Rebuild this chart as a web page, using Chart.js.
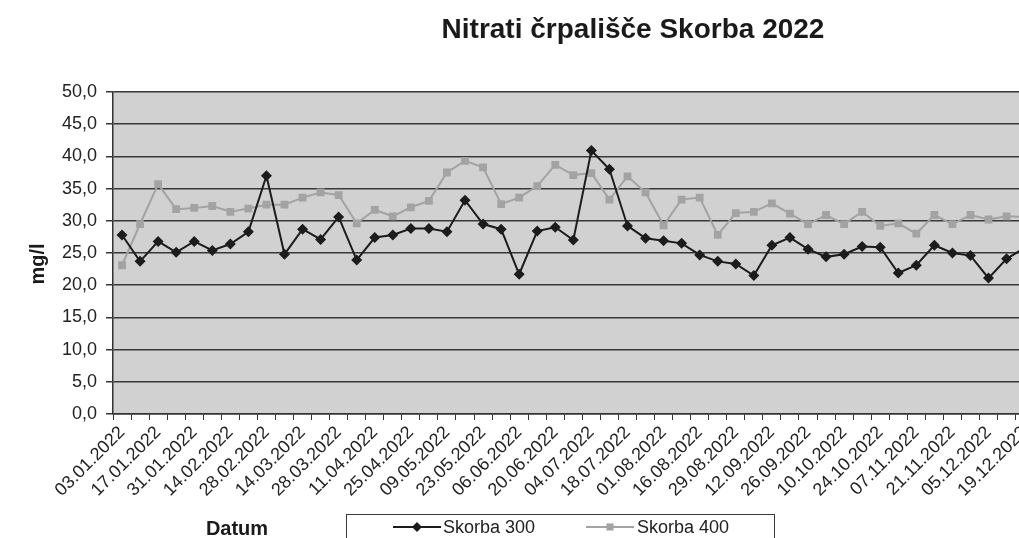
<!DOCTYPE html>
<html>
<head>
<meta charset="utf-8">
<script src="https://cdn.jsdelivr.net/npm/chart.js@4/dist/chart.umd.min.js"></script>
<style>
  html, body { margin: 0; padding: 0; background: #fff; overflow: hidden; }
  #wrap { position: absolute; left: 0; top: 0; width: 1019px; height: 538px; overflow: hidden; }
  canvas { display: block; }
</style>
</head>
<body>
<div id="wrap"><canvas id="chart" width="1060" height="538"></canvas></div>
<script>
// ------------------------------------------------------------
// Nitrati črpališče Skorba 2022 — tedenske meritve
// ------------------------------------------------------------

const datumi = [
  '03.01.2022', '10.01.2022', '17.01.2022', '24.01.2022', '31.01.2022', '07.02.2022',
  '14.02.2022', '21.02.2022', '28.02.2022', '07.03.2022', '14.03.2022', '21.03.2022',
  '28.03.2022', '04.04.2022', '11.04.2022', '19.04.2022', '25.04.2022', '02.05.2022',
  '09.05.2022', '16.05.2022', '23.05.2022', '30.05.2022', '06.06.2022', '13.06.2022',
  '20.06.2022', '27.06.2022', '04.07.2022', '11.07.2022', '18.07.2022', '25.07.2022',
  '01.08.2022', '08.08.2022', '16.08.2022', '22.08.2022', '29.08.2022', '05.09.2022',
  '12.09.2022', '19.09.2022', '26.09.2022', '03.10.2022', '10.10.2022', '17.10.2022',
  '24.10.2022', '02.11.2022', '07.11.2022', '14.11.2022', '21.11.2022', '28.11.2022',
  '05.12.2022', '12.12.2022', '19.12.2022', '27.12.2022',
];

const skorba300 = [
  27.8, 23.7, 26.8, 25.1, 26.8, 25.4, 26.4, 28.3, 37.0, 24.8, 28.7, 27.1,
  30.6, 23.9, 27.4, 27.8, 28.8, 28.8, 28.3, 33.2, 29.5, 28.7, 21.7, 28.4,
  29.0, 27.0, 40.9, 38.0, 29.2, 27.3, 26.9, 26.5, 24.7, 23.7, 23.3, 21.5,
  26.2, 27.4, 25.6, 24.4, 24.8, 26.0, 25.9, 21.9, 23.1, 26.2, 25.0, 24.6,
  21.1, 24.1, 25.8, 25.0,
];

const skorba400 = [
  23.1, 29.5, 35.7, 31.8, 32.0, 32.3, 31.4, 31.9, 32.5, 32.5, 33.6, 34.4,
  34.0, 29.6, 31.7, 30.7, 32.1, 33.1, 37.5, 39.3, 38.3, 32.6, 33.6, 35.4,
  38.7, 37.1, 37.4, 33.3, 36.9, 34.4, 29.3, 33.3, 33.6, 27.8, 31.2, 31.4,
  32.7, 31.1, 29.5, 30.9, 29.5, 31.4, 29.2, 29.6, 28.0, 30.9, 29.5, 30.9,
  30.2, 30.7, 30.6, 30.0,
];

const naslov   = 'Nitrati črpališče Skorba 2022';
const osX      = 'Datum';
const osY      = 'mg/l';
const imeniSerij = ['Skorba 300', 'Skorba 400'];

const FONT = '"Liberation Sans", Arial, sans-serif';
const BARVA_300 = '#1c1c1c';
const BARVA_400 = '#a3a3a3';

// kvadrat / romb za legendo
function narisiZnak(ctx, tip, x, y, r, barva) {
  ctx.fillStyle = barva;
  ctx.beginPath();
  if (tip === 'rectRot') {
    ctx.moveTo(x, y - r);
    ctx.lineTo(x + r, y);
    ctx.lineTo(x, y + r);
    ctx.lineTo(x - r, y);
  } else {
    const s = r * Math.SQRT1_2;
    ctx.rect(x - s, y - s, 2 * s, 2 * s);
  }
  ctx.closePath();
  ctx.fill();
}

const ozadjeGrafa = {
  id: 'ozadjeGrafa',
  beforeDraw(chart) {
    const { ctx, chartArea: a } = chart;
    ctx.save();
    ctx.fillStyle = '#d1d1d1';
    ctx.fillRect(a.left, a.top, a.right - a.left, a.bottom - a.top);
    ctx.restore();
  },
};

const napisi = {
  id: 'napisi',
  afterDraw(chart) {
    const { ctx } = chart;
    ctx.save();
    ctx.fillStyle = '#1a1a1a';
    ctx.textBaseline = 'alphabetic';

    // naslov
    ctx.font = `bold 28px ${FONT}`;
    ctx.textAlign = 'center';
    ctx.fillText(naslov, 633, 38);

    // naslov osi X
    ctx.font = `bold 20px ${FONT}`;
    ctx.fillText(osX, 237, 535);

    // naslov osi Y (navpično)
    ctx.translate(37, 264);
    ctx.rotate(-Math.PI / 2);
    ctx.fillText(osY, 0, 7);
    ctx.setTransform(1, 0, 0, 1, 0, 0);

    // legenda v okvirju
    ctx.fillStyle = '#ffffff';
    ctx.fillRect(346.5, 514.5, 428, 40);
    ctx.strokeStyle = '#3a3a3a';
    ctx.lineWidth = 1;
    ctx.strokeRect(346.5, 514.5, 428, 40);

    const vnosi = [
      { x0: 393, x1: 441, tx: 443, barva: BARVA_300, tip: 'rectRot', ime: imeniSerij[0] },
      { x0: 586, x1: 634, tx: 637, barva: BARVA_400, tip: 'rect', ime: imeniSerij[1] },
    ];
    vnosi.forEach((v) => {
      ctx.strokeStyle = v.barva;
      ctx.lineWidth = 2;
      ctx.beginPath();
      ctx.moveTo(v.x0, 527);
      ctx.lineTo(v.x1, 527);
      ctx.stroke();
      narisiZnak(ctx, v.tip, (v.x0 + v.x1) / 2, 527, 5, v.barva);
      ctx.fillStyle = '#222';
      ctx.font = `18px ${FONT}`;
      ctx.textAlign = 'left';
      ctx.fillText(v.ime, v.tx, 533);
    });
    ctx.restore();
  },
};

new Chart(document.getElementById('chart'), {
  type: 'line',
  data: {
    labels: datumi,
    datasets: [
      {
        label: imeniSerij[0],
        data: skorba300,
        borderColor: BARVA_300,
        backgroundColor: BARVA_300,
        borderWidth: 2,
        pointStyle: 'rectRot',
        pointRadius: 5.5,
        pointBorderWidth: 0,
        tension: 0,
      },
      {
        label: imeniSerij[1],
        data: skorba400,
        borderColor: BARVA_400,
        backgroundColor: BARVA_400,
        borderWidth: 2,
        pointStyle: 'rect',
        pointRadius: 5.5,
        pointBorderWidth: 0,
        tension: 0,
      },
    ],
  },
  options: {
    responsive: false,
    animation: false,
    devicePixelRatio: 1,
    layout: { padding: { top: 92, left: 21, right: 5, bottom: 0 } },
    plugins: {
      legend: { display: false },
      title: { display: false },
      tooltip: { enabled: false },
    },
    scales: {
      x: {
        offset: true,
        afterFit: (s) => { s.height = 124; },
        grid: {
          offset: true,
          drawOnChartArea: false,
          color: '#333',
          tickLength: 6,
          lineWidth: 1,
        },
        border: { color: '#333', width: 1.5 },
        ticks: {
          autoSkip: false,
          maxRotation: 45,
          minRotation: 45,
          padding: 2,
          color: '#222',
          font: { family: FONT, size: 18 },
          callback: (val, i) => (i % 2 === 0 ? datumi[i] : ''),
        },
      },
      y: {
        min: 0,
        max: 50,
        afterFit: (s) => { s.width = 92; },
        grid: { color: '#383838', lineWidth: 1.5, tickLength: 7 },
        border: { color: '#333', width: 1.5 },
        ticks: {
          stepSize: 5,
          padding: 9,
          color: '#222',
          font: { family: FONT, size: 18 },
          callback: (v) => v.toFixed(1).replace('.', ','),
        },
      },
    },
  },
  plugins: [ozadjeGrafa, napisi],
});
</script>
</body>
</html>
